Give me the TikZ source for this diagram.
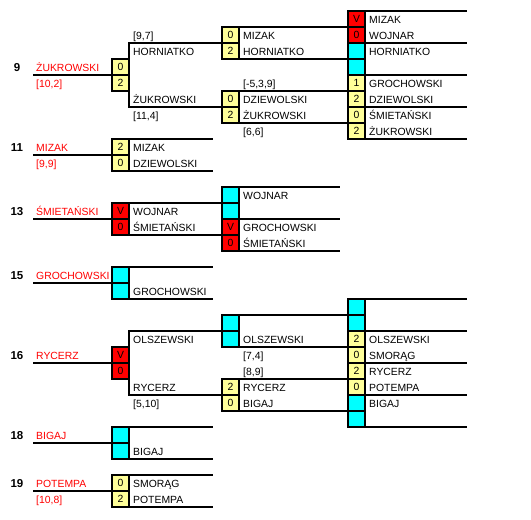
\documentclass[tikz,border=0pt]{standalone}
\usepackage{fontspec}
\setmainfont{Liberation Sans}
\definecolor{ylw}{HTML}{FFFF99}
\definecolor{cyn}{HTML}{00FFFF}
\definecolor{rd}{HTML}{FF0000}
\newcounter{nc}
\newcommand{\cel}[4]{\stepcounter{nc}\node[cellbox,fill=#3] (cell\arabic{nc}) at (#1+8.5,#2+8) {#4};}
\newcommand{\txt}[3]{\stepcounter{nc}\node[txtnode] (t\arabic{nc}) at (#1,#2) {#3};}
\newcommand{\rtxt}[3]{\stepcounter{nc}\node[txtnode,text=rd] (r\arabic{nc}) at (#1,#2) {#3};}
\newcommand{\numtxt}[2]{\stepcounter{nc}\node[numnode] (n\arabic{nc}) at (17,#1) {#2};}
\begin{document}
\begin{tikzpicture}[x=1pt,y=-1pt,
  font=\fontsize{10.4}{12}\selectfont,
  cellbox/.style={draw=black,line width=2pt,minimum width=17pt,minimum height=16pt,inner sep=0pt,outer sep=0pt},
  txtnode/.style={anchor=base west,inner sep=0pt},
  numnode/.style={anchor=base,inner sep=0pt,font=\fontsize{11.5}{12}\selectfont\bfseries},
  ln/.style={line width=2.6pt}]
\useasboundingbox (0,0) rectangle (531,520);
% left lines
\foreach \y in {75,155,219,283,363,443,491} \draw[ln] (33,\y) -- (112,\y);
% column 1 brackets
\draw[ln] (222,43) -| (129,107) -- (222,107);
\draw[ln] (222,331) -| (129,395) -- (222,395);
\foreach \y in {139,171,267,299,427,459,475,507} \draw[ln] (129,\y) -- (213,\y);
\foreach \y in {203,235} \draw[ln] (129,\y) -- (222,\y);
% column 2 lines
\foreach \y in {27,59,91,123,315,347,379,411} \draw[ln] (239,\y) -- (348,\y);
\foreach \y in {187,219,251} \draw[ln] (239,\y) -- (340,\y);
% column 3 lines
\foreach \y in {11,43,75,107,139,299,331,363,395,427} \draw[ln] (365,\y) -- (467,\y);
% column 1 cells
\cel{112}{59}{ylw}{0}\cel{112}{75}{ylw}{2}
\cel{112}{139}{ylw}{2}\cel{112}{155}{ylw}{0}
\cel{112}{203}{rd}{V}\cel{112}{219}{rd}{0}
\cel{112}{267}{cyn}{}\cel{112}{283}{cyn}{}
\cel{112}{347}{rd}{V}\cel{112}{363}{rd}{0}
\cel{112}{427}{cyn}{}\cel{112}{443}{cyn}{}
\cel{112}{475}{ylw}{0}\cel{112}{491}{ylw}{2}
% column 2 cells
\cel{222}{27}{ylw}{0}\cel{222}{43}{ylw}{2}
\cel{222}{91}{ylw}{0}\cel{222}{107}{ylw}{2}
\cel{222}{187}{cyn}{}\cel{222}{203}{cyn}{}\cel{222}{219}{rd}{V}\cel{222}{235}{rd}{0}
\cel{222}{315}{cyn}{}\cel{222}{331}{cyn}{}
\cel{222}{379}{ylw}{2}\cel{222}{395}{ylw}{0}
% column 3 cells
\cel{348}{11}{rd}{V}\cel{348}{27}{rd}{0}\cel{348}{43}{cyn}{}\cel{348}{59}{cyn}{}
\cel{348}{75}{ylw}{1}\cel{348}{91}{ylw}{2}\cel{348}{107}{ylw}{0}\cel{348}{123}{ylw}{2}
\cel{348}{299}{cyn}{}\cel{348}{315}{cyn}{}\cel{348}{331}{ylw}{2}\cel{348}{347}{ylw}{0}
\cel{348}{363}{ylw}{2}\cel{348}{379}{ylw}{0}\cel{348}{395}{cyn}{}\cel{348}{411}{cyn}{}
% left numbers and names
\numtxt{71}{9}\rtxt{36}{71}{ŻUKROWSKI}\rtxt{36}{87}{[10,2]}
\numtxt{151}{11}\rtxt{36}{151}{MIZAK}\rtxt{36}{167}{[9,9]}
\numtxt{215}{13}\rtxt{36}{215}{ŚMIETAŃSKI}
\numtxt{279}{15}\rtxt{36}{279}{GROCHOWSKI}
\numtxt{359}{16}\rtxt{36}{359}{RYCERZ}
\numtxt{439}{18}\rtxt{36}{439}{BIGAJ}
\numtxt{487}{19}\rtxt{36}{487}{POTEMPA}\rtxt{36}{503}{[10,8]}
% column 1 texts
\txt{133}{39}{[9,7]}\txt{133}{55}{HORNIATKO}\txt{133}{103}{ŻUKROWSKI}\txt{133}{119}{[11,4]}
\txt{133}{151}{MIZAK}\txt{133}{167}{DZIEWOLSKI}
\txt{133}{215}{WOJNAR}\txt{133}{231}{ŚMIETAŃSKI}
\txt{133}{295}{GROCHOWSKI}
\txt{133}{343}{OLSZEWSKI}\txt{133}{391}{RYCERZ}\txt{133}{407}{[5,10]}
\txt{133}{455}{BIGAJ}
\txt{133}{487}{SMORĄG}\txt{133}{503}{POTEMPA}
% column 2 texts
\txt{243}{39}{MIZAK}\txt{243}{55}{HORNIATKO}
\txt{243}{87}{[-5,3,9]}\txt{243}{103}{DZIEWOLSKI}\txt{243}{119}{ŻUKROWSKI}\txt{243}{135}{[6,6]}
\txt{243}{199}{WOJNAR}\txt{243}{231}{GROCHOWSKI}\txt{243}{247}{ŚMIETAŃSKI}
\txt{243}{343}{OLSZEWSKI}\txt{243}{359}{[7,4]}\txt{243}{375}{[8,9]}\txt{243}{391}{RYCERZ}\txt{243}{407}{BIGAJ}
% column 3 texts
\txt{369}{23}{MIZAK}\txt{369}{39}{WOJNAR}\txt{369}{55}{HORNIATKO}
\txt{369}{87}{GROCHOWSKI}\txt{369}{103}{DZIEWOLSKI}\txt{369}{119}{ŚMIETAŃSKI}\txt{369}{135}{ŻUKROWSKI}
\txt{369}{343}{OLSZEWSKI}\txt{369}{359}{SMORĄG}\txt{369}{375}{RYCERZ}\txt{369}{391}{POTEMPA}\txt{369}{407}{BIGAJ}
\end{tikzpicture}
\end{document}
